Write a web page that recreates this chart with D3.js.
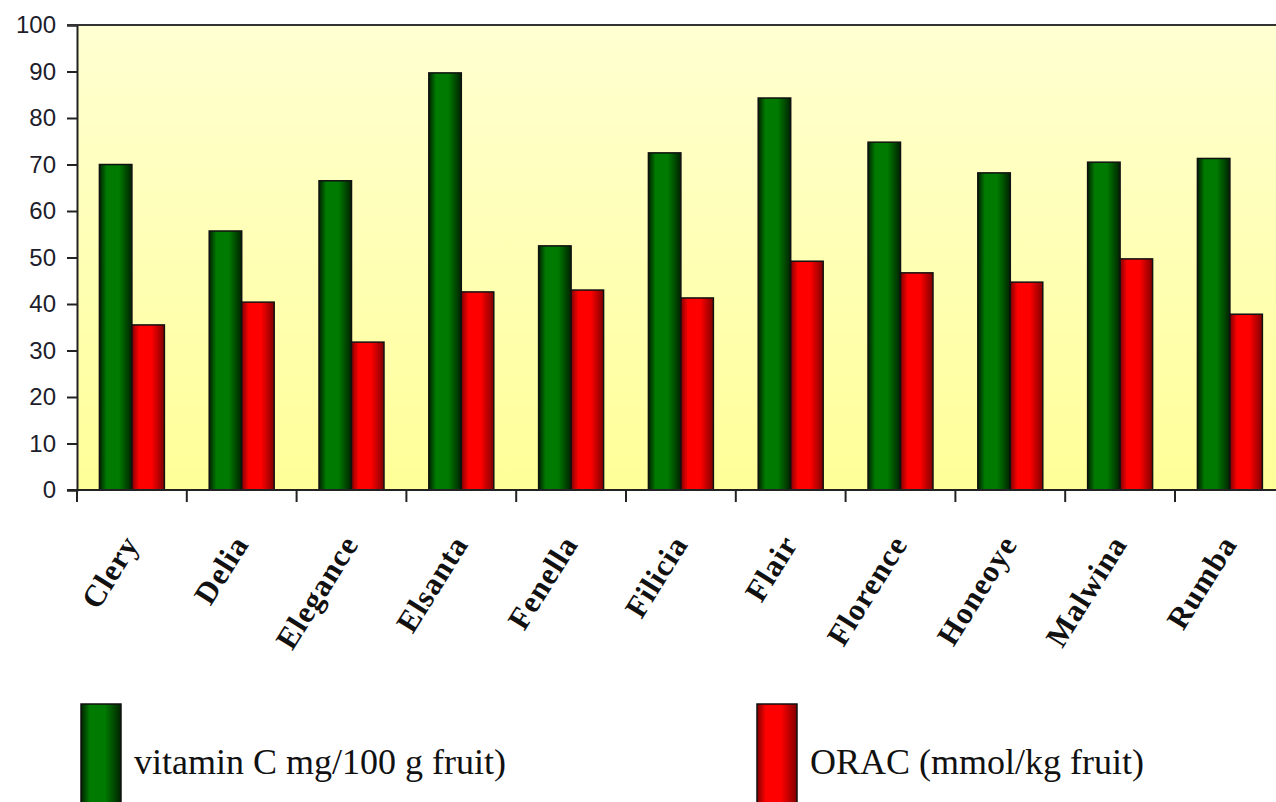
<!DOCTYPE html>
<html>
<head>
<meta charset="utf-8">
<script src="https://cdn.jsdelivr.net/npm/d3@7"></script>
<style>
  body { margin: 0; background: #fff; }
  svg { display: block; }
</style>
</head>
<body>
<div id="chart"></div>
<script>
// data
var cultivars = ["Clery", "Delia", "Elegance", "Elsanta", "Fenella", "Filicia",
  "Flair", "Florence", "Honeoye", "Malwina", "Rumba"];
var vitaminC = [70, 55.7, 66.5, 89.7, 52.5, 72.5, 84.3, 74.8, 68.2, 70.5, 71.3];
var orac = [35.5, 40.4, 31.8, 42.6, 43.0, 41.3, 49.2, 46.7, 44.7, 49.7, 37.8];
var seriesNames = ["vitamin C mg/100 g fruit)", "ORAC (mmol/kg fruit)"];
var yTicks = [0, 10, 20, 30, 40, 50, 60, 70, 80, 90, 100];

var width = 1276,
  height = 802;
var plotLeft = 77, plotTop = 25, plotBottom = 490;
var step = 109.8;

var svg = d3.select("#chart").append("svg")
  .attr("width", width)
  .attr("height", height);

var defs = svg.append("defs");

// background gradient of plot area
var bg = defs.append("linearGradient").attr("id", "bg")
  .attr("x1", 0).attr("y1", 0).attr("x2", 0).attr("y2", 1);
bg.append("stop").attr("offset", "0%").attr("stop-color", "#ffffd2");
bg.append("stop").attr("offset", "100%").attr("stop-color", "#ffff98");

// bar shading, dark edges light middle
function barGrad(id, dark, light) {
  var g = defs.append("linearGradient").attr("id", id)
    .attr("x1", 0).attr("y1", 0).attr("x2", 1).attr("y2", 0);
  g.append("stop").attr("offset", "0%").attr("stop-color", dark);
  g.append("stop").attr("offset", "22%").attr("stop-color", light);
  g.append("stop").attr("offset", "60%").attr("stop-color", light);
  g.append("stop").attr("offset", "100%").attr("stop-color", dark);
}
barGrad("gGreen", "#002200", "#007a00");
barGrad("gRed", "#800000", "#ff0000");
var fills = ["url(#gGreen)", "url(#gRed)"];

var x = d3.scaleBand()
  .domain(cultivars)
  .range([plotLeft, plotLeft + step * cultivars.length])
  .padding(0);

var x1 = d3.scaleBand()
  .domain([0, 1])
  .range([0, x.bandwidth()])
  .paddingInner(0)
  .paddingOuter(0.69);

var y = d3.scaleLinear()
  .domain([0, 100])
  .range([plotBottom, plotTop]);

// plot background
svg.append("rect")
  .attr("x", plotLeft)
  .attr("y", plotTop)
  .attr("width", step * cultivars.length)
  .attr("height", plotBottom - plotTop)
  .attr("fill", "url(#bg)");

// bars
var rows = cultivars.map(function(c, i) {
  return { name: c, values: [vitaminC[i], orac[i]] };
});

var group = svg.selectAll(".cat")
  .data(rows)
  .enter().append("g")
  .attr("class", "cat")
  .attr("transform", function(d) { return "translate(" + x(d.name) + ",0)"; });

group.selectAll("rect")
  .data(function(d) { return d.values.map(function(v, k) { return { k: k, v: v }; }); })
  .enter().append("rect")
  .attr("x", function(d) { return x1(d.k); })
  .attr("y", function(d) { return y(d.v); })
  .attr("width", x1.bandwidth())
  .attr("height", function(d) { return y(0) - y(d.v); })
  .attr("fill", function(d) { return fills[d.k]; })
  .attr("stroke", "#111")
  .attr("stroke-width", 1.5);

// y axis
var yAxis = d3.axisLeft(y)
  .tickValues(yTicks)
  .tickSize(10)
  .tickPadding(11)
  .tickFormat(d3.format("d"));

var gy = svg.append("g")
  .attr("transform", "translate(" + plotLeft + ",0)")
  .call(yAxis);
gy.select(".domain").attr("stroke", "#222").attr("stroke-width", 2);
gy.selectAll(".tick line").attr("stroke", "#222").attr("stroke-width", 2);
gy.selectAll(".tick text")
  .attr("font-family", "Arial, 'Liberation Sans', sans-serif")
  .attr("font-size", 24)
  .attr("fill", "#1d1d2b");

// top border
svg.append("line")
  .attr("x1", plotLeft - 10).attr("x2", width)
  .attr("y1", plotTop).attr("y2", plotTop)
  .attr("stroke", "#333").attr("stroke-width", 2);

// x axis line and boundary ticks
svg.append("line")
  .attr("x1", plotLeft - 10).attr("x2", width)
  .attr("y1", plotBottom).attr("y2", plotBottom)
  .attr("stroke", "#222").attr("stroke-width", 2);

svg.selectAll(".xtick")
  .data(cultivars)
  .enter().append("line")
  .attr("class", "xtick")
  .attr("x1", function(d) { return x(d); })
  .attr("x2", function(d) { return x(d); })
  .attr("y1", plotBottom)
  .attr("y2", plotBottom + 12)
  .attr("stroke", "#222").attr("stroke-width", 2);

// rotated category labels
svg.selectAll(".xlab")
  .data(cultivars)
  .enter().append("text")
  .attr("class", "xlab")
  .attr("transform", function(d) {
    return "translate(" + (x(d) + x.bandwidth() / 2 + 8) + "," + 544 + ") rotate(-58)";
  })
  .attr("text-anchor", "end")
  .attr("font-family", "'Times New Roman', 'Liberation Serif', serif")
  .attr("font-weight", "bold")
  .attr("font-size", 31)
  .attr("letter-spacing", 1)
  .attr("fill", "#111")
  .text(function(d) { return d; });

// legend
var legendX = [81, 757];
var leg = svg.selectAll(".leg")
  .data(seriesNames)
  .enter().append("g")
  .attr("class", "leg")
  .attr("transform", function(d, i) { return "translate(" + legendX[i] + ",704)"; });

leg.append("rect")
  .attr("width", 40)
  .attr("height", 120)
  .attr("fill", function(d, i) { return fills[i]; })
  .attr("stroke", "#111")
  .attr("stroke-width", 1.5);

leg.append("text")
  .attr("x", 53)
  .attr("y", 70)
  .attr("font-family", "'Times New Roman', 'Liberation Serif', serif")
  .attr("font-size", 36)
  .attr("fill", "#111")
  .text(function(d) { return d; });
</script>
</body>
</html>
